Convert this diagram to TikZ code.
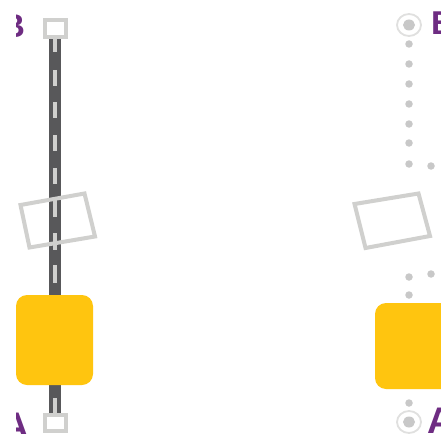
\documentclass[tikz,border=0pt]{standalone}
\usepackage{fontspec}
\setmainfont{Liberation Sans}
\definecolor{roadgrey}{HTML}{58585A}
\definecolor{paleline}{HTML}{D0D0CE}
\definecolor{dotgrey}{HTML}{C8C8C8}
\definecolor{amber}{HTML}{FFC50F}
\definecolor{plum}{HTML}{6E2C82}
\definecolor{mint}{HTML}{8FE0A0}
\tikzset{
  every picture/.style={x=1pt,y=-1pt},
  road/.style={draw=roadgrey,line width=12pt},
  roaddash/.style={draw=paleline,line width=4pt},
  stopbox/.style={draw=paleline,line width=4pt,fill=white},
  frame/.style={draw=paleline,line width=4pt,line join=miter},
  carbox/.style={fill=amber,rounded corners=11pt},
  waydot/.style={circle,fill=dotgrey,inner sep=0pt,minimum width=7.5pt,minimum height=6.5pt},
  eyering/.style={draw=paleline!65,line width=1.8pt,fill=white},
  eyecore/.style={fill=dotgrey},
  letter/.style={text=plum,font=\bfseries\fontsize{33}{33}\selectfont,inner sep=0pt,anchor=base west},
  bigletter/.style={letter,font=\bfseries\fontsize{37}{37}\selectfont},
}
\begin{document}
\begin{tikzpicture}
\useasboundingbox (0,0) rectangle (441,433);
\fill[white] (0,0) rectangle (441,433);
% left road
\coordinate (rt) at (55,38);
\coordinate (rb) at (55,415);
\draw[road] (rt) -- (rb);
\foreach \a/\b in {38/52,70/86,102/118,135/151,168/184,200/217,233/250,265/283,398/415}
  \draw[roaddash] (55,\a) -- (55,\b);
% left end boxes
\draw[stopbox] (45,20) rectangle (66,37);
\draw[stopbox] (45,415) rectangle (65.5,431);
% left tilted frame
\draw[frame] (20.5,205) -- (84.5,193.5) -- (95,236.5) -- (29.5,247.5) -- cycle;
% left car
\fill[carbox] (16,295) rectangle (93,385);
% clipped letters on the left
\begin{scope}
  \clip (16,0) rectangle (40,433);
  \node[letter] (bl) at (1,38) {B};
  \node[bigletter] (al) at (2.5,438) {A};
\end{scope}
% right waypoint dots
\foreach \n/\px/\py in {a/409/44,b/409/64,c/409/84,d/409/104,e/409/124,f/409/143,g/409/164,h/431/166,i/409/277,j/431/274,k/409/295,l/409/403}
  \node[waydot] (dot\n) at (\px,\py) {};
% eyes
\draw[eyering] (409,25) ellipse (12pt and 11pt);
\fill[eyecore] (409,25) ellipse (6pt and 5.5pt);
\draw[eyering] (409,422) ellipse (12pt and 11pt);
\fill[eyecore] (409,422) ellipse (6pt and 5.5pt);
% right tilted frame
\draw[frame] (354.5,204) -- (418.5,193.5) -- (430,236) -- (365.5,248) -- cycle;
% right car
\fill[mint] (402,303.5) arc (180:360:6pt and 1.5pt) -- cycle;
\fill[carbox] (375,303) rectangle (470,389);
% right letters
\node[letter] (br) at (431,35) {B};
\node[bigletter] (ar) at (427,433) {A};
\end{tikzpicture}
\end{document}
